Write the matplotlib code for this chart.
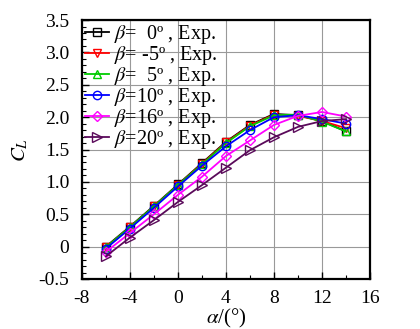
import matplotlib
matplotlib.use("Agg")
import matplotlib.pyplot as plt
from matplotlib.ticker import MultipleLocator

plt.rcParams['font.family'] = ['Liberation Serif', 'DejaVu Serif']
plt.rcParams['mathtext.fontset'] = 'stix'

alpha = [-6, -4, -2, 0, 2, 4, 6, 8, 10, 12, 14]
cl_b0 = [0.00, 0.31, 0.63, 0.96, 1.29, 1.62, 1.88, 2.05, 2.03, 1.94, 1.78]
cl_bm5 = [-0.01, 0.30, 0.62, 0.95, 1.28, 1.61, 1.87, 2.04, 2.02, 1.94, 1.83]
cl_b5 = [-0.01, 0.30, 0.62, 0.95, 1.27, 1.60, 1.86, 2.03, 2.04, 1.93, 1.78]
cl_b10 = [-0.03, 0.28, 0.60, 0.93, 1.25, 1.55, 1.80, 2.00, 2.03, 1.97, 1.90]
cl_b16 = [-0.08, 0.21, 0.50, 0.80, 1.08, 1.40, 1.64, 1.88, 2.02, 2.08, 2.01]
cl_b20 = [-0.15, 0.14, 0.41, 0.69, 0.95, 1.22, 1.49, 1.69, 1.85, 1.94, 1.97]

labels = [r'$\it{\beta}$=  0º , Exp.',
          r'$\it{\beta}$= -5º , Exp.',
          r'$\it{\beta}$=  5º , Exp.',
          r'$\it{\beta}$=10º , Exp.',
          r'$\it{\beta}$=16º , Exp.',
          r'$\it{\beta}$=20º , Exp.']
series = [cl_b0, cl_bm5, cl_b5, cl_b10, cl_b16, cl_b20]
colors = ['#000000', '#ff0000', '#00cc00', '#0000ff', '#ff00ff', '#5a0a5a']
markers = ['s', 'v', '^', 'o', 'D', '>']
msizes = [6, 6, 6, 6, 5.5, 6.5]

fig = plt.figure(figsize=(4.2, 3.29), dpi=100)
ax = fig.add_axes([0.195, 0.152, 0.686, 0.787])

for y, c, m, ms, lab in zip(series, colors, markers, msizes, labels):
    ax.plot(alpha, y, color=c, marker=m, markersize=ms, markerfacecolor='none',
            markeredgecolor=c, markeredgewidth=1.0, linewidth=1.3, label=lab)

ax.set_xlim(-8, 16)
ax.set_ylim(-0.5, 3.5)
ax.xaxis.set_minor_locator(MultipleLocator(2))
ax.yaxis.set_minor_locator(MultipleLocator(0.1))
ax.set_xticks([-8, -4, 0, 4, 8, 12, 16])
ax.set_xticklabels(['-8', '-4', '0', '4', '8', '12', '16'])
ax.set_yticks([-0.5, 0, 0.5, 1.0, 1.5, 2.0, 2.5, 3.0, 3.5])
ax.set_yticklabels(['-0.5', '0', '0.5', '1.0', '1.5', '2.0', '2.5', '3.0', '3.5'])
ax.grid(True, which='major', color='#999999', linewidth=0.8)
ax.tick_params(which='both', direction='in', top=False, right=False, labelsize=14)
ax.tick_params(axis='y', which='major', pad=9)
ax.tick_params(axis='x', which='major', pad=8)
ax.tick_params(which='major', length=5, width=1)
ax.tick_params(which='minor', length=3, width=0.8)
for s in ax.spines.values():
    s.set_linewidth(1.6)

ax.set_xlabel(r'$\it{\alpha}$/(°)', fontsize=15, labelpad=0)
ax.set_ylabel(r'$C_L$', fontsize=15, labelpad=6)

ax.legend(loc='upper left', frameon=False, fontsize=14.5, handlelength=1.2,
          handletextpad=0.25, labelspacing=-0.1, borderaxespad=0.0,
          borderpad=0.15)

fig.savefig('out.png', dpi=100)
